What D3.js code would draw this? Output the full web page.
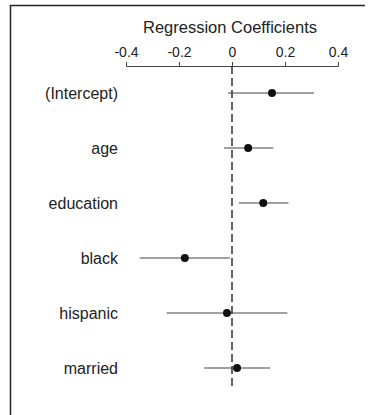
<!DOCTYPE html>
<html>
<head>
<meta charset="utf-8">
<script src="https://cdn.jsdelivr.net/npm/d3@7"></script>
<style>
  body { margin: 0; background: #fff; }
  svg { font-family: "Liberation Sans", Arial, Helvetica, sans-serif; }
</style>
</head>
<body>
<svg width="370" height="415"></svg>
<script>
// The data
const terms = ["(Intercept)", "age", "education", "black", "hispanic", "married"];
const estimates = [0.151, 0.061, 0.118, -0.178, -0.019, 0.019];
const lower = [-0.015, -0.030, 0.026, -0.348, -0.247, -0.105];
const upper = [0.310, 0.156, 0.213, -0.008, 0.209, 0.144];
const tickValues = [-0.4, -0.2, 0, 0.2, 0.4];

const svg = d3.select("svg");

// Frame (top and left only)
svg.append("path")
  .attr("d", "M10.5,415 V5.5 H365")
  .attr("fill", "none")
  .attr("stroke", "#222")
  .attr("stroke-width", 1.5);

const x = d3.scaleLinear()
  .domain([-0.4, 0.4])
  .range([126, 338]);

const y = d3.scalePoint()
  .domain(terms)
  .range([93, 368]);

// Title
svg.append("text")
  .attr("x", 230)
  .attr("y", 33)
  .attr("text-anchor", "middle")
  .style("font-size", "16.5px")
  .style("fill", "#222")
  .text("Regression Coefficients");

// Top axis
const axis = svg.append("g")
  .attr("transform", "translate(0,66)")
  .call(d3.axisTop(x)
    .tickValues(tickValues)
    .tickSize(4)
    .tickFormat(d => d === 0 ? "0" : d3.format(".1f")(d).replace("\u2212", "-")));

axis.select(".domain").attr("stroke", "#444");
axis.selectAll(".tick line").attr("stroke", "#444");
axis.selectAll(".tick text")
  .attr("y", -9)
  .attr("dy", 0)
  .style("font-size", "14px")
  .style("font-family", "\"Liberation Sans\", Arial, sans-serif")
  .style("fill", "#222");

// Zero reference line
svg.append("line")
  .attr("x1", x(0))
  .attr("x2", x(0))
  .attr("y1", 66)
  .attr("y2", 390)
  .attr("stroke", "#222")
  .attr("stroke-width", 1.4)
  .attr("stroke-dasharray", "8,4");

const rows = svg.append("g")
  .selectAll("g")
  .data(terms)
  .join("g");

// Interval lines
rows.append("line")
  .attr("x1", (d, i) => x(lower[i]))
  .attr("x2", (d, i) => x(upper[i]))
  .attr("y1", d => y(d))
  .attr("y2", d => y(d))
  .attr("stroke", "#444")
  .attr("stroke-width", 1.2);

// Points
rows.append("circle")
  .attr("cx", (d, i) => x(estimates[i]))
  .attr("cy", d => y(d))
  .attr("r", 4)
  .attr("fill", "#111");

// Row labels
rows.append("text")
  .attr("x", 118)
  .attr("y", d => y(d))
  .attr("dy", "0.35em")
  .attr("text-anchor", "end")
  .style("font-size", "16px")
  .style("fill", "#222")
  .text(d => d);
</script>
</body>
</html>
